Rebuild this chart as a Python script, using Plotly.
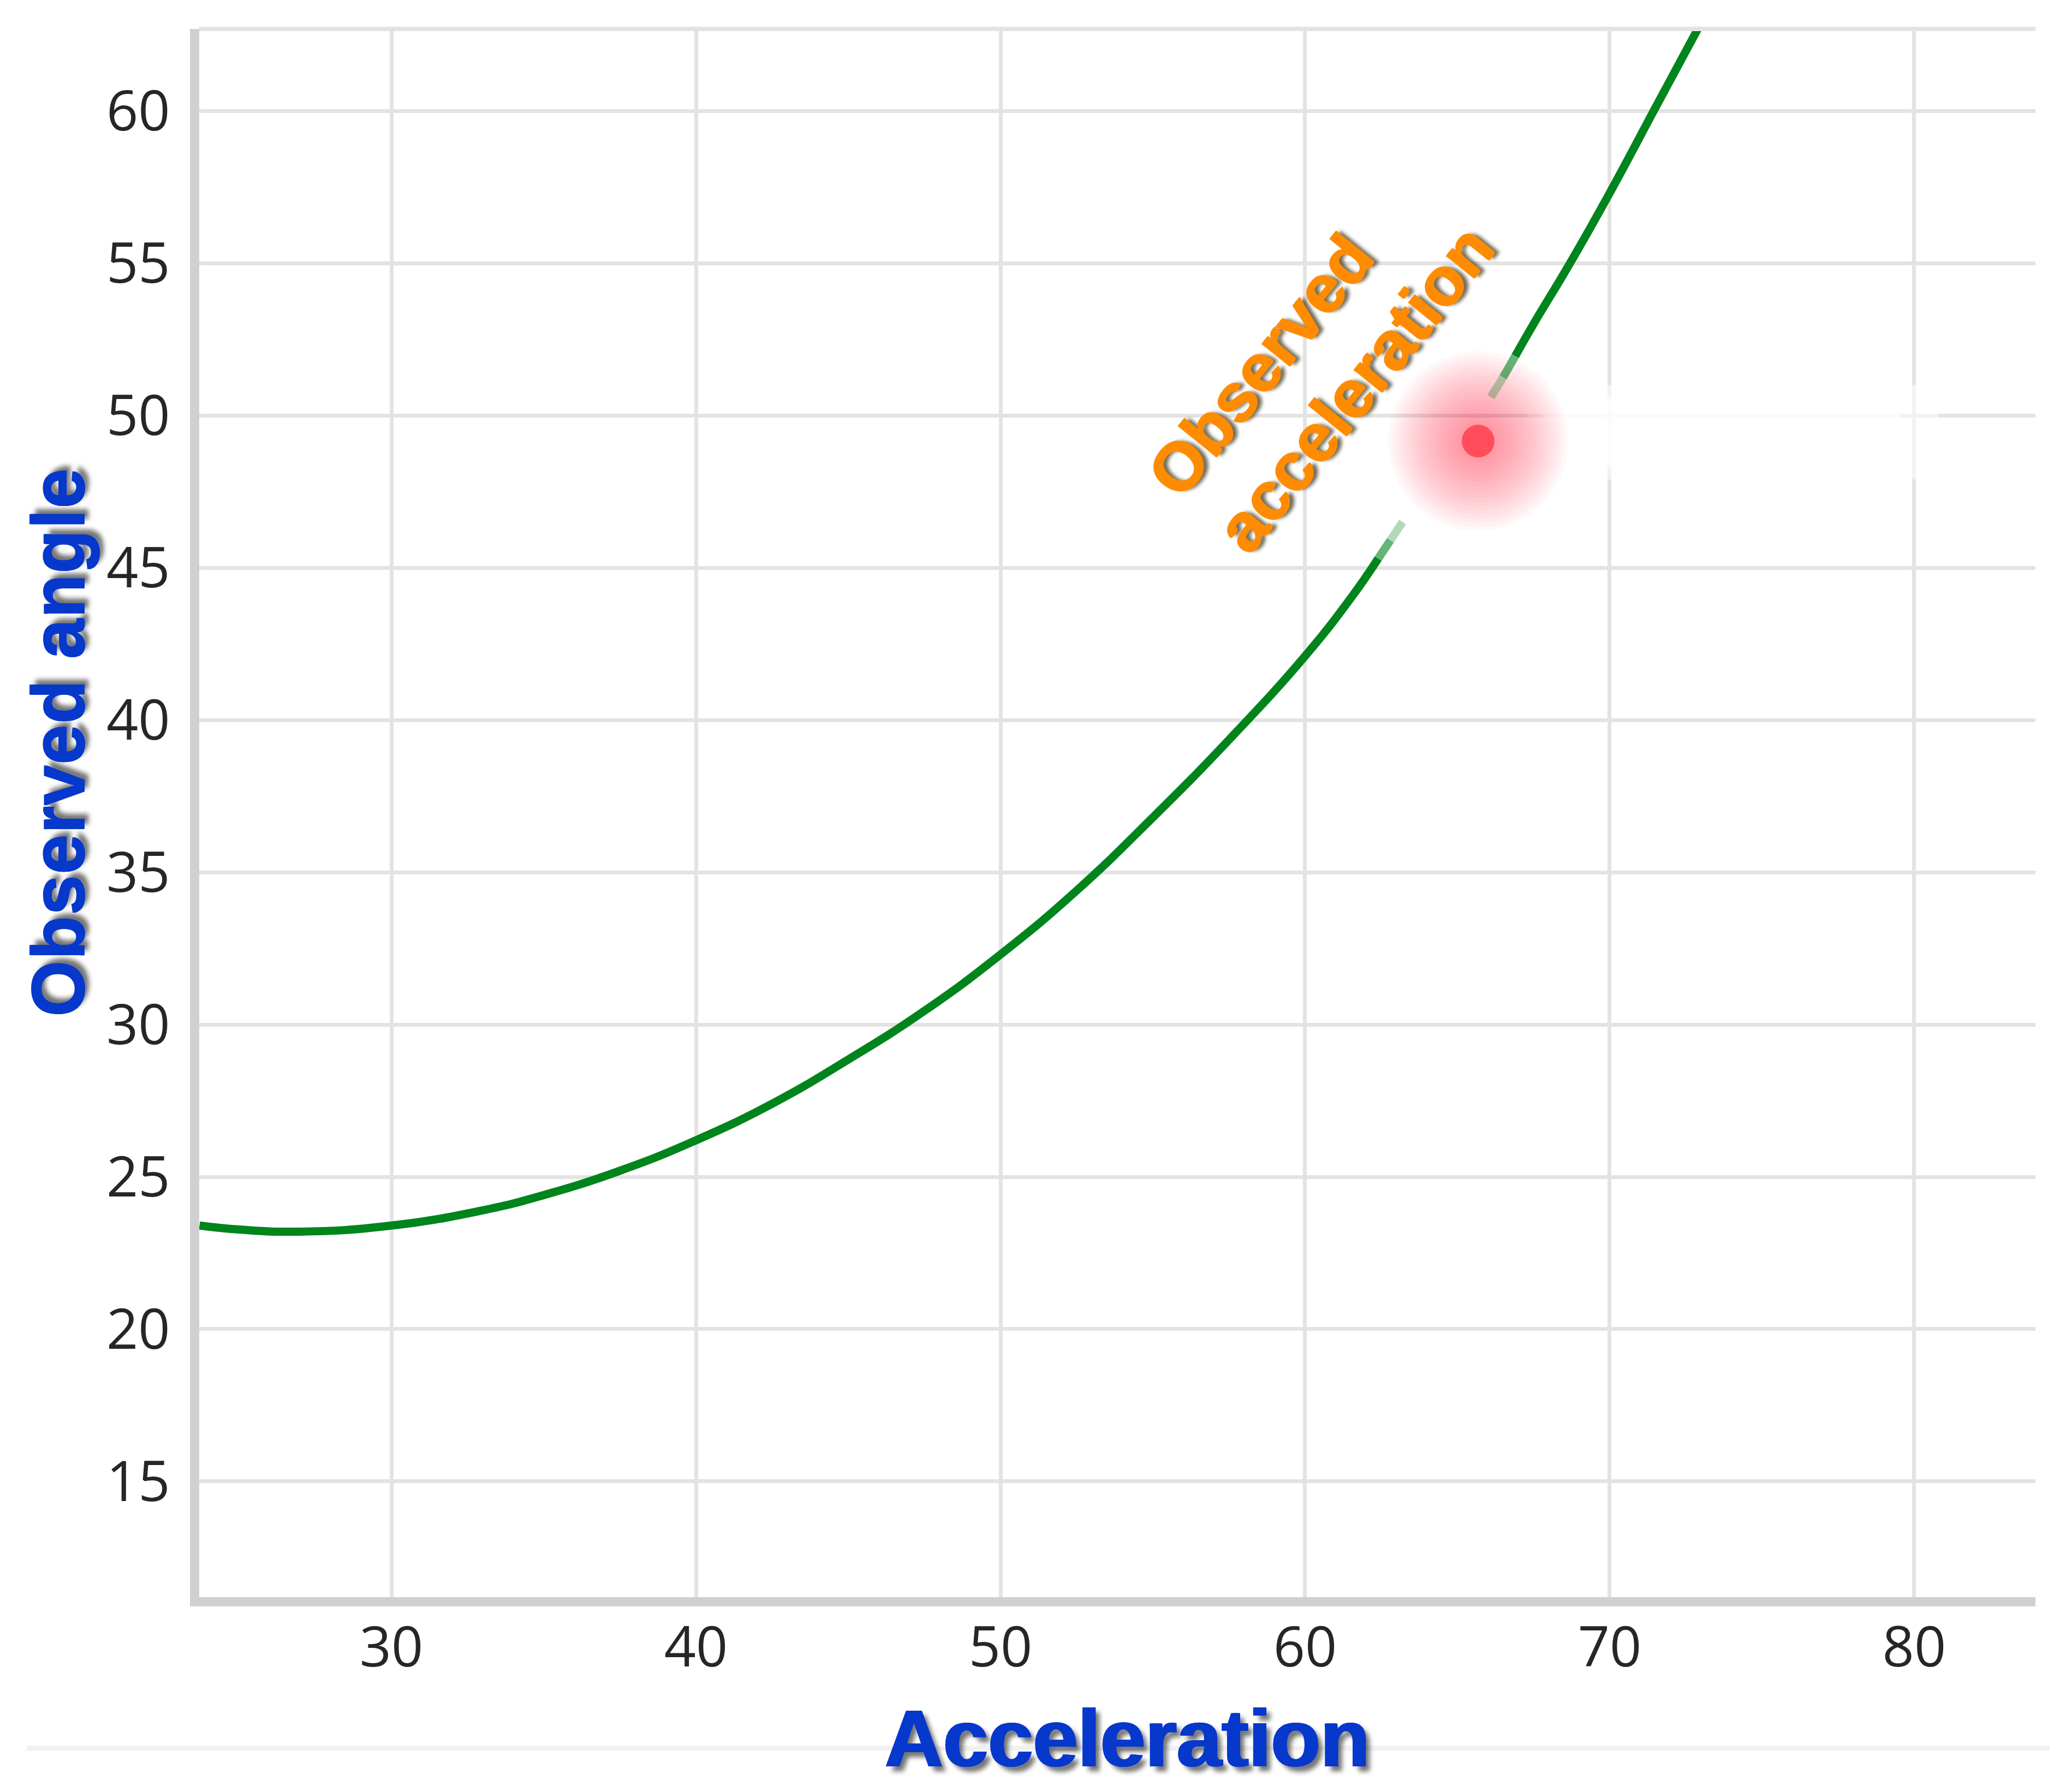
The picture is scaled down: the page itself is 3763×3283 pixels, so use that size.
import plotly.graph_objects as go

# curve (it is broken round the observed point)
curve_x_lower = [23.7, 25, 27, 30, 33, 35, 37.5, 40, 42.5, 45, 47.5, 50,
                 52.5, 55, 57.5, 60, 61.5, 62.4, 62.8, 63.2]
curve_y_lower = [23.4, 23.27, 23.2, 23.4, 23.9, 24.4, 25.2, 26.2, 27.4, 28.85,
                 30.45, 32.3, 34.4, 36.8, 39.35, 42.1, 44.0, 45.3, 45.9, 46.5]
curve_x_upper = [66.1, 66.5, 66.9, 67.5, 68.7, 70, 71.5, 72.9]
curve_y_upper = [50.6, 51.25, 51.95, 53.0, 55.0, 57.3, 60.1, 62.7]

# observed point
obs_x = [65.68]
obs_y = [49.16]

x_ticks = [30, 40, 50, 60, 70, 80]
y_ticks = [15, 20, 25, 30, 35, 40, 45, 50, 55, 60]

GREEN = "rgb(0,132,28)"
BLUE = "#0638cc"
ORANGE = "#ff8c00"

fig = go.Figure()

# soft red glow round the point, built from stacked translucent markers
for s in range(330, 60, -15):
    fig.add_trace(go.Scatter(x=obs_x, y=obs_y, mode="markers",
                             marker=dict(size=s, color="rgba(255,60,80,0.035)",
                                         line=dict(width=0)),
                             hoverinfo="skip", showlegend=False))


def seg(xs, ys, alpha, smooth=True):
    line = dict(color=GREEN, width=15)
    if smooth:
        line.update(shape="spline", smoothing=1.3)
    fig.add_trace(go.Scatter(x=xs, y=ys, mode="lines", line=line, opacity=alpha,
                             hoverinfo="skip", showlegend=False))


# lower branch, fading out as it nears the point
seg(curve_x_lower[:-2], curve_y_lower[:-2], 1.0)
seg(curve_x_lower[-3:-1], curve_y_lower[-3:-1], 0.6, smooth=False)
seg(curve_x_lower[-2:], curve_y_lower[-2:], 0.3, smooth=False)
# upper branch, fading in
seg(curve_x_upper[:2], curve_y_upper[:2], 0.3, smooth=False)
seg(curve_x_upper[1:3], curve_y_upper[1:3], 0.6, smooth=False)
seg(curve_x_upper[2:], curve_y_upper[2:], 1.0)

fig.add_trace(go.Scatter(x=obs_x, y=obs_y, mode="markers",
                         marker=dict(size=60, color="#ff4d5b", line=dict(width=0)),
                         showlegend=False))

axis_common = dict(
    showgrid=True, gridcolor="#e3e3e3", gridwidth=7,
    showline=True, linecolor="#d0d0d0", linewidth=17,
    zeroline=False, ticks="",
    tickfont=dict(family="Open Sans", size=102, color="#262626"),
    layer="below traces",
)

fig.update_layout(
    width=3763, height=3283, autosize=False,
    margin=dict(l=357, r=42, t=45, b=365, pad=0),
    plot_bgcolor="white", paper_bgcolor="white",
    xaxis=dict(range=[23.69, 83.98], tickvals=x_ticks, ticklabelstandoff=-12,
               **axis_common),
    yaxis=dict(range=[11.2, 62.69], tickvals=y_ticks, ticklabelstandoff=16,
               **axis_common),
    shapes=[
        # thin top border
        dict(type="line", xref="paper", yref="paper", x0=0, x1=1, y0=1, y1=1,
             line=dict(color="#e3e3e3", width=8)),
        # faint rule under the chart
        dict(type="line", xref="paper", yref="paper", x0=-0.094, x1=1.0125,
             y0=-0.0964, y1=-0.0964, line=dict(color="#f1f1f1", width=9),
             layer="below"),
        # white smear to the right of the point
        dict(type="rect", xref="x", yref="y", x0=67.3, x1=80.8, y0=47.9, y1=51.0,
             fillcolor="white", opacity=0.55, line=dict(width=0), layer="between"),
        dict(type="rect", xref="x", yref="y", x0=67.8, x1=79.5, y0=48.3, y1=50.6,
             fillcolor="white", opacity=0.7, line=dict(width=0), layer="between"),
    ],
    annotations=[
        dict(text="Acceleration", xref="paper", yref="paper", x=0.5054, y=-0.09,
             xanchor="center", yanchor="middle", showarrow=False,
             font=dict(family="Liberation Sans", size=148, color=BLUE, weight="bold",
                       shadow=f"2px 0 0 {BLUE}, -2px 0 0 {BLUE}, 9px 9px 8px rgba(0,0,0,0.55)")),
        dict(text="Observed angle", xref="paper", yref="paper", x=-0.077, y=0.545,
             xanchor="center", yanchor="middle", textangle=-90, showarrow=False,
             font=dict(family="Liberation Sans", size=134, color=BLUE, weight="bold",
                       shadow=f"0 2px 0 {BLUE}, 0 -2px 0 {BLUE}, 9px 9px 8px rgba(0,0,0,0.55)")),
        dict(text="Observed<br>acceleration", xref="x", yref="y", x=60.5, y=51.8,
             xanchor="center", yanchor="middle", textangle=-51, showarrow=False,
             align="left",
             font=dict(family="Liberation Sans", size=124, color=ORANGE, weight="bold",
                       shadow=f"2px 0 0 {ORANGE}, -1px 0 0 {ORANGE}, 0 2px 0 {ORANGE}, "
                              "7px 7px 6px rgba(40,30,0,0.65)")),
    ],
)

fig.write_html("out.html")
